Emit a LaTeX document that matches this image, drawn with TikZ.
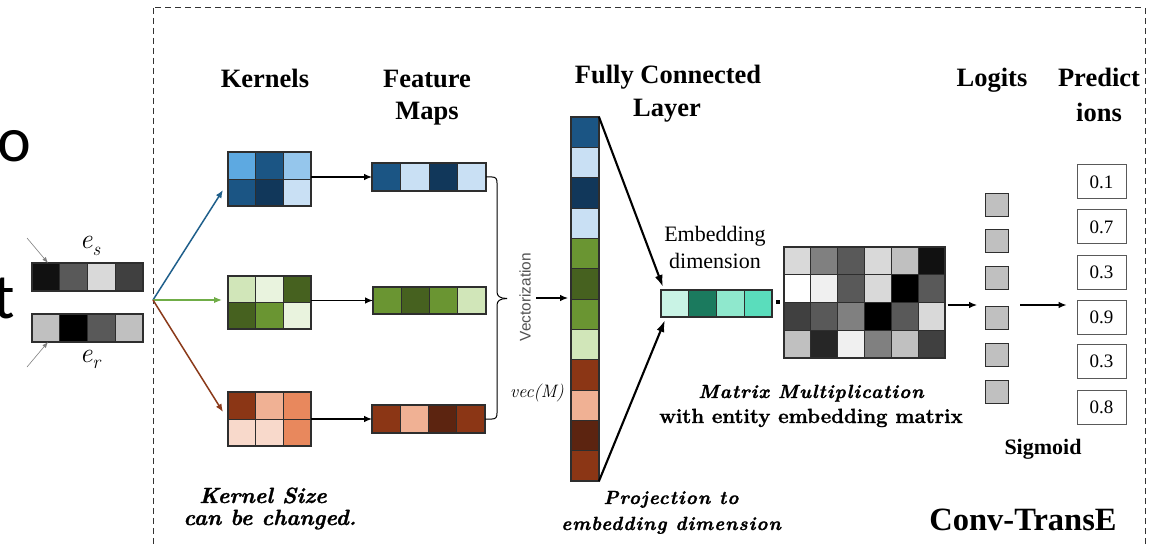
\documentclass[tikz,border=0pt]{standalone}
\usepackage{fontspec}
\setmainfont{Liberation Serif}
\newfontfamily\lmroman{Latin Modern Roman}
\newfontfamily\lmheavy[FakeBold=1.2]{Latin Modern Roman}
\newfontfamily\lmspaced[LetterSpace=5,FakeBold=1.2]{Latin Modern Roman}
\newfontfamily\arialf{Liberation Sans}
\newfontfamily\calib{Carlito}
\usetikzlibrary{arrows.meta,calc}

% cell and frame colours
\definecolor{cellline}{HTML}{2E2E2E}
\definecolor{bA}{HTML}{5DA9E1}\definecolor{bB}{HTML}{1B5584}
\definecolor{bC}{HTML}{95C6EC}\definecolor{bD}{HTML}{11375A}
\definecolor{bE}{HTML}{C9E0F4}
\definecolor{gA}{HTML}{D1E6B9}\definecolor{gB}{HTML}{E9F3DE}
\definecolor{gC}{HTML}{46611F}\definecolor{gD}{HTML}{6A9532}
\definecolor{rA}{HTML}{8B3615}\definecolor{rB}{HTML}{F0B194}
\definecolor{rC}{HTML}{E8885D}\definecolor{rD}{HTML}{F8D9CB}
\definecolor{rE}{HTML}{5C2410}
\definecolor{tA}{HTML}{C9F3E5}\definecolor{tB}{HTML}{1B7A5E}
\definecolor{tC}{HTML}{8FE8CD}\definecolor{tD}{HTML}{5ADDBC}
\definecolor{k00}{HTML}{000000}\definecolor{k11}{HTML}{111111}
\definecolor{k26}{HTML}{262626}\definecolor{k40}{HTML}{404040}
\definecolor{k59}{HTML}{595959}\definecolor{k80}{HTML}{808080}
\definecolor{kC0}{HTML}{C0C0C0}\definecolor{kD9}{HTML}{D9D9D9}
\definecolor{kF0}{HTML}{F0F0F0}\definecolor{kFF}{HTML}{FFFFFF}
\definecolor{fanB}{HTML}{1F5F8B}\definecolor{fanG}{HTML}{70AD47}
\definecolor{fanR}{HTML}{8B3A1A}
\definecolor{dashgray}{HTML}{333333}
\definecolor{vecgray}{HTML}{505050}
\definecolor{inarrow}{HTML}{808080}

% a grid of coloured cells, row by row: x0, y0, cell width, cell height, columns, colours
\newcommand\cellgrid[6]{%
  \foreach \cl [count=\ii from 0] in {#6}{%
    \pgfmathtruncatemacro\cgX{mod(\ii,#5)}%
    \pgfmathtruncatemacro\cgY{floor(\ii/#5)}%
    \filldraw[cell, fill=\cl] ({#1+\cgX*#3},{#2+\cgY*#4}) rectangle ++(#3,#4);
  }}
% named block: name, x0, y0, cell width, cell height, columns, rows, colours
\newcommand\block[8]{%
  \cellgrid{#2}{#3}{#4}{#5}{#6}{#8}%
  \pgfmathsetmacro\bw{#4*#6}\pgfmathsetmacro\bh{#5*#7}%
  \node[frame, minimum width=\bw pt, minimum height=\bh pt] (#1) at ({#2+\bw/2},{#3+\bh/2}) {};
}

\begin{document}
\begin{tikzpicture}[x=1pt,y=-1pt,
  cell/.style={draw=cellline, line width=0.9pt},
  frame/.style={draw=cellline, line width=1.1pt, inner sep=0pt, outer sep=0pt},
  arr/.style={-{Latex[length=8pt,width=6.5pt]}, line width=1.1pt},
  bigarr/.style={-{Latex[length=12pt,width=8pt]}, line width=2.1pt},
  fan/.style={-{Latex[length=8pt,width=6.5pt]}, line width=1.5pt},
  inarr/.style={-{Latex[length=6pt,width=4.5pt]}, line width=0.6pt, draw=inarrow},
  hdr/.style={font=\fontsize{26.5}{30}\selectfont\bfseries, anchor=base, inner sep=0pt},
  logit/.style={draw=cellline, fill=kC0, line width=1.3pt, minimum size=23pt, inner sep=0pt},
  pred/.style={draw=k59, line width=1pt, minimum width=49pt, minimum height=34pt,
    inner sep=0pt, font=\fontsize{19}{22}\selectfont},
  note/.style={anchor=base, inner sep=0pt},
]
\useasboundingbox (0,0) rectangle (1150,545);
\clip (0,0) rectangle (1150,545);

% cut-off words at the left edge
\node[note, anchor=base east, font=\calib\fontsize{64}{70}\selectfont] (cutO) at (31,162) {o};
\node[note, anchor=base east, font=\calib\fontsize{64}{70}\selectfont] (cutT) at (15,318) {t};

% dashed frame of the model
\draw[dashgray, line width=1pt, dash pattern=on 6pt off 4pt] (153,8) rectangle (1145,570);

% input embeddings
\block{es}{32}{263}{27.75}{28}{4}{1}{k11,k59,kD9,k40}
\block{er}{32}{314}{27.75}{28}{4}{1}{kC0,k00,k59,kC0}
\node[font=\lmroman\fontsize{28}{32}\selectfont\itshape] (esl) at (90,246) {e\raisebox{-0.22em}{\fontsize{19}{22}\selectfont s}};
\node[font=\lmroman\fontsize{28}{32}\selectfont\itshape] (erl) at (90,359) {e\raisebox{-0.22em}{\fontsize{19}{22}\selectfont r}};
\coordinate (esin) at (27,238);
\coordinate (erin) at (27,367);
\draw[inarr] (esin) -- ($(es.north west)+(16,0)$);
\draw[inarr] (erin) -- ($(er.south west)+(16,0)$);

% kernels
\block{kb}{228}{152}{27.67}{27}{3}{2}{bA,bB,bC,bB,bD,bE}
\block{kg}{228}{276}{27.67}{26.5}{3}{2}{gA,gB,gC,gC,gD,gB}
\block{kr}{228}{392}{27.67}{27}{3}{2}{rA,rB,rC,rD,rD,rC}

% feature maps
\block{fb}{372}{163}{28.5}{28}{4}{1}{bB,bE,bD,bE}
\block{fg}{373}{287}{28.25}{27}{4}{1}{gD,gC,gD,gA}
\block{fr}{372}{405}{28.25}{28}{4}{1}{rA,rB,rE,rA}

% fan-out to the kernels
\coordinate (src) at (153,300);
\draw[fan, fanB] (src) -- ($(kb.west)+(-5,11)$);
\draw[fan, fanG] (src) -- ($(kg.west)+(-6,-2.5)$);
\draw[fan, fanR] (src) -- ($(kr.west)+(-5,-7)$);

% convolution
\draw[arr] (kb.east |- fb.west) -- (fb.west);
\draw[arr] (kg.east |- fg.west) -- (fg.west);
\draw[arr] (kr.east |- fr.west) -- (fr.west);

% brace gathering the feature maps
\draw[line width=1pt] (fb.east) -- (492,177) .. controls (496,177) and (497,179) .. (497,183)
  -- (497,292) .. controls (497,296) and (500,298.5) .. (507,298.5);
\draw[line width=1pt] (fr.east) -- (492,419) .. controls (496,419) and (497,417) .. (497,413)
  -- (497,305) .. controls (497,301) and (500,298.5) .. (507,298.5);

% vectorised feature maps
\block{col}{571}{117}{28}{30.33}{1}{12}{bB,bE,bD,bE,gD,gC,gD,gA,rA,rB,rE,rA}
\node[rotate=90, font=\arialf\fontsize{15.4}{18}\selectfont, text=vecgray, inner sep=0pt] (vz) at (525,297) {Vectorization};
\coordinate (va) at (536,298);
\draw[arr] (va) -- ($(col.west |- va)+(-3,0)$);
\node[font=\lmroman\fontsize{18}{21}\selectfont\itshape] (vm) at (537,393) {vec(M)};

% projection to the embedding dimension
\block{emb}{661}{290}{27.75}{27}{4}{1}{tA,tB,tC,tD}
\draw[bigarr] (col.north east) -- ($(emb.north west)+(2,-3)$);
\draw[bigarr] (col.south east) -- ($(emb.south west)+(4,3)$);
\node[note, font=\fontsize{22}{26}\selectfont] (ed1) at (715,242) {Embedding};
\node[note, font=\fontsize{22}{26}\selectfont] (ed2) at (715,268) {dimension};

% product with the entity embedding matrix
\node[fill=black, minimum size=3.5pt, inner sep=0pt] (dot) at (778,302) {};
\block{mat}{784}{247}{26.83}{27.75}{6}{4}{kD9,k80,k59,kD9,kC0,k11,kFF,kF0,k59,kD9,k00,k59,k40,k59,k80,k00,k59,kD9,kC0,k26,kF0,k80,kC0,k40}

% logits
\node[logit] (l1) at (997,205) {};
\node[logit] (l2) at (997,241) {};
\node[logit] (l3) at (997,278) {};
\node[logit] (l4) at (997,318) {};
\node[logit] (l5) at (997,355) {};
\node[logit] (l6) at (997,392) {};
\coordinate (ml) at (977,305);
\draw[arr] ($(mat.east)+(3,2.5)$) -- (ml);

% predictions
\node[pred] (p1) at (1101.5,182) {0.1};
\node[pred] (p2) at (1101.5,227) {0.7};
\node[pred] (p3) at (1101.5,272) {0.3};
\node[pred] (p4) at (1101.5,317) {0.9};
\node[pred] (p5) at (1101.5,361) {0.3};
\node[pred] (p6) at (1101.5,407) {0.8};
\draw[arr] ($(l4.east)+(11,-13)$) -- ($(p4.west)+(-10,-12)$);

% headings
\node[hdr] (hk) at (265,88) {Kernels};
\node[hdr] (hf1) at (427,88) {Feature};
\node[hdr] (hf2) at (427,120) {Maps};
\node[hdr] (hc1) at (668,84) {Fully Connected};
\node[hdr] (hc2) at (667,117) {Layer};
\node[hdr] (hl) at (992,87) {Logits};
\node[hdr] (hp1) at (1099,87) {Predict};
\node[hdr] (hp2) at (1099,122) {ions};
\node[note, font=\fontsize{22}{26}\selectfont\bfseries] (sig) at (1043,454) {Sigmoid};
\node[note, font=\fontsize{32.5}{36}\selectfont\bfseries] (ct) at (1023,530) {Conv-TransE};

% notes
\node[note, font=\lmheavy\fontsize{22}{26}\selectfont\bfseries\itshape] (ks1) at (263,503) {Kernel Size};
\node[note, font=\lmheavy\fontsize{22}{26}\selectfont\bfseries\itshape] (ks2) at (270,525) {can be changed.};
\node[note, font=\lmspaced\fontsize{19}{24}\selectfont\bfseries\itshape] (pj1) at (671,504) {Projection to};
\node[note, font=\lmspaced\fontsize{19}{24}\selectfont\bfseries\itshape] (pj2) at (671,530) {embedding dimension};
\node[note, font=\lmspaced\fontsize{19}{24}\selectfont\bfseries\itshape] (mm1) at (811,398) {Matrix Multiplication};
\node[note, font=\lmheavy\fontsize{20.5}{24}\selectfont\bfseries] (mm2) at (811,423) {with entity embedding matrix};
\end{tikzpicture}
\end{document}
